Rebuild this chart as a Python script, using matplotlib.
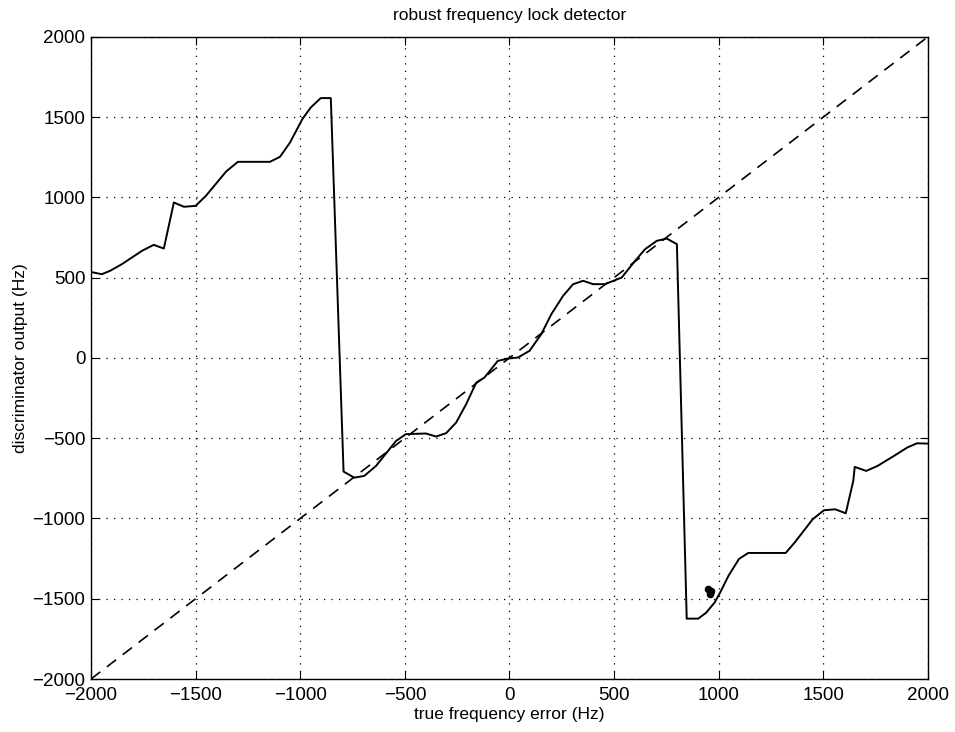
import matplotlib
matplotlib.use("Agg")
import matplotlib.pyplot as plt

plt.rcParams['font.family'] = ['Liberation Sans', 'DejaVu Sans']

# discriminator output vs true frequency error (Hz)
freq_err = [-2000, -1949, -1909, -1852, -1756, -1700, -1652, -1604, -1556, -1500,
            -1451, -1354, -1298, -1145, -1097, -1049, -990, -950, -902, -854,
            -793, -742, -694, -638, -542, -495, -399, -351, -303, -255,
            -207, -159, -120, -56, -8, 40, 96, 152, 200, 256,
            304, 352, 400, 456, 536, 600, 648, 704, 752, 800,
            847, 902, 940, 980, 1007, 1047, 1097, 1141, 1320, 1363,
            1449, 1503, 1557, 1607, 1643, 1650, 1705, 1759, 1837, 1900,
            1947, 2000]
disc_out = [535, 521, 542, 584, 667, 704, 681, 968, 941, 947,
            1009, 1161, 1221, 1221, 1252, 1341, 1487, 1559, 1618, 1618,
            -708, -746, -735, -673, -517, -475, -471, -490, -469, -403,
            -288, -154, -123, -19, -4, 2, 44, 148, 272, 386,
            459, 480, 459, 459, 500, 604, 677, 729, 743, 708,
            -1624, -1624, -1587, -1524, -1461, -1356, -1252, -1215, -1215, -1150,
            -1005, -949, -943, -968, -766, -679, -704, -673, -611, -559,
            -532, -534]

# ideal (unity) response
ideal_x = [-2000, 2000]
ideal_y = [-2000, 2000]

# scan blot
blot_x = [950, 962, 958]
blot_y = [-1440, -1450, -1470]

ticks = [-2000, -1500, -1000, -500, 0, 500, 1000, 1500, 2000]
tick_labels = ['\u22122000', '\u22121500', '\u22121000', '\u2212500', '0', '500', '1000', '1500', '2000']

fig = plt.figure(figsize=(9.55, 7.32), dpi=100)
ax = fig.add_axes([0.0953, 0.0724, 0.8764, 0.8774])

ax.plot(ideal_x, ideal_y, color='black', linestyle=(0, (7, 5)), linewidth=1.2)
ax.plot(freq_err, disc_out, color='black', linewidth=1.4)
ax.scatter(blot_x, blot_y, s=30, color='black', marker='o', linewidths=0)

ax.set_xlim(-2000, 2000)
ax.set_ylim(-2000, 2000)
ax.set_xticks(ticks)
ax.set_xticklabels(tick_labels)
ax.set_yticks(ticks)
ax.set_yticklabels(tick_labels)
ax.grid(True, color='black', linestyle=(0, (1, 5)), linewidth=0.9)
ax.tick_params(direction='in', top=True, right=True, length=6, labelsize=13.5, colors='black')
ax.tick_params(axis='x', pad=6)
ax.tick_params(axis='y', pad=4)
for s in ax.spines.values():
    s.set_linewidth(1.0)

ax.set_title('robust frequency lock detector', fontsize=12.5, pad=12)
ax.set_xlabel('true frequency error (Hz)', fontsize=12.5, labelpad=2)
ax.set_ylabel('discriminator output (Hz)', fontsize=12.5, labelpad=3)

fig.savefig('out.png', dpi=100)
